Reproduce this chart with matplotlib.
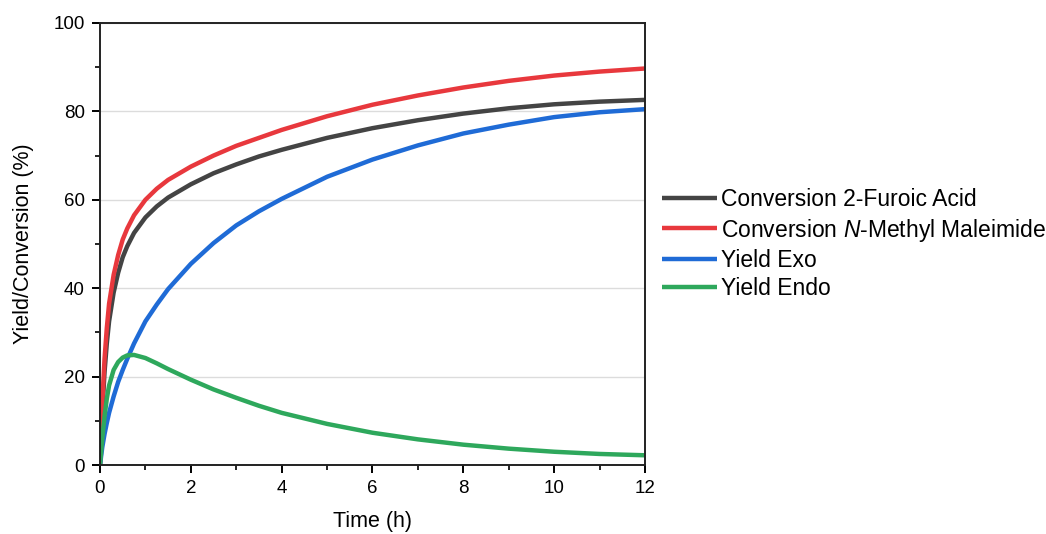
import matplotlib
matplotlib.use("Agg")
import matplotlib.pyplot as plt
from matplotlib.ticker import MultipleLocator

plt.rcParams['font.family'] = ['Liberation Sans', 'DejaVu Sans']
plt.rcParams['mathtext.fontset'] = 'custom'
plt.rcParams['mathtext.it'] = 'Liberation Sans:italic'
plt.rcParams['mathtext.rm'] = 'Liberation Sans'

time_h = [0, 0.05, 0.1, 0.15, 0.2, 0.3, 0.4, 0.5, 0.6, 0.75, 1, 1.25, 1.5, 2, 2.5,
          3, 3.5, 4, 5, 6, 7, 8, 9, 10, 11, 12]
conv_furoic = [0, 12, 21, 27.5, 32.5, 39, 43.5, 47, 49.5, 52.5, 56, 58.5, 60.5, 63.5, 66,
               68, 69.8, 71.3, 74, 76.2, 78, 79.5, 80.7, 81.6, 82.2, 82.6]
conv_nmm = [0, 14, 24, 31, 36.5, 43, 47.5, 51, 53.5, 56.5, 60, 62.5, 64.5, 67.5, 70,
            72.2, 74, 75.8, 78.9, 81.5, 83.6, 85.4, 86.9, 88.1, 89.0, 89.7]
yield_exo = [0, 4, 7, 9.5, 11.8, 15.5, 18.8, 21.5, 24, 27.5, 32.5, 36.3, 39.8, 45.5, 50.2,
             54.2, 57.4, 60.2, 65.2, 69.1, 72.3, 75, 77, 78.7, 79.8, 80.5]
yield_endo = [0, 6, 11, 15, 18, 21.5, 23.3, 24.3, 24.8, 24.9, 24.2, 23, 21.7, 19.3, 17.1,
              15.2, 13.4, 11.8, 9.3, 7.3, 5.8, 4.6, 3.7, 3.0, 2.5, 2.2]

labels = ['Conversion 2-Furoic Acid', r'Conversion $\mathit{N}$-Methyl Maleimide',
          'Yield Exo', 'Yield Endo']
colors = ['#444444', '#e8383d', '#1f6bd6', '#2ea85c']

fig = plt.figure(figsize=(10.46, 5.34), dpi=100)
ax = fig.add_axes([0.0956, 0.1292, 0.521, 0.8278])

for ys, lab, c in zip([conv_furoic, conv_nmm, yield_exo, yield_endo], labels, colors):
    ax.plot(time_h, ys, color=c, lw=3.2, label=lab, solid_capstyle='butt')

ax.set_xlim(0, 12)
ax.set_ylim(0, 100)
ax.xaxis.set_major_locator(MultipleLocator(2))
ax.xaxis.set_minor_locator(MultipleLocator(1))
ax.yaxis.set_major_locator(MultipleLocator(20))
ax.yaxis.set_minor_locator(MultipleLocator(10))
ax.yaxis.grid(True, which='major', color='#dcdcdc', lw=1)
ax.set_axisbelow(True)
ax.tick_params(which='major', direction='out', length=6, width=1.4, labelsize=13.5,
               colors='black', pad=5)
ax.tick_params(which='minor', direction='out', length=3.5, width=1.2)
for s in ax.spines.values():
    s.set_linewidth(1.4)
    s.set_color('#222222')
ax.set_xlabel('Time (h)', fontsize=15.5, labelpad=10)
ax.set_ylabel('Yield/Conversion (%)', fontsize=15.5, labelpad=14)

fig.legend(loc='center left', bbox_to_anchor=(0.624, 0.543), frameon=False,
           fontsize=16.5, handlelength=2.4, handletextpad=0.2, labelspacing=0.22,
           borderaxespad=0, handleheight=0.7)

fig.savefig('out.png', dpi=100)
